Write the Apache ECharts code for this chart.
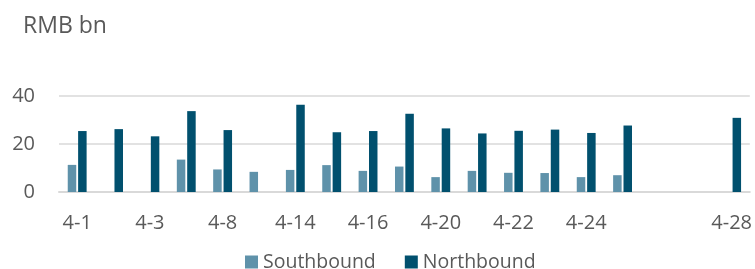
<!DOCTYPE html>
<html>
<head>
  <meta charset="UTF-8">
  <script src="https://cdn.jsdelivr.net/npm/echarts@6/dist/echarts.min.js"></script>
  <style>
    html, body { margin: 0; padding: 0; background: #fff; }
    #main { width: 755px; height: 269px; }
  </style>
</head>
<body>
  <div id="main"></div>
  <script>
    const days = ['4-1', '4-2', '4-3', '4-7', '4-8', '4-13', '4-14', '4-15', '4-16', '4-17',
                  '4-20', '4-21', '4-22', '4-23', '4-24', '4-25', '', '', '4-28'];
    const southbound = [11.3, null, null, 13.5, 9.4, 8.4, 9.2, 11.2, 8.8, 10.6,
                        6.2, 8.8, 8.0, 7.9, 6.2, 7.0, null, null, null];
    const northbound = [25.4, 26.2, 23.2, 33.7, 25.8, null, 36.4, 24.9, 25.4, 32.6,
                        26.5, 24.4, 25.5, 26.0, 24.6, 27.7, null, null, 30.9];
    const yTicks = [0, 20, 40];

    const font = 'Open Sans';
    const grey = '#595959';

    const chart = echarts.init(document.getElementById('main'));

    const option = {
      animation: false,
      textStyle: { fontFamily: font },
      title: {
        text: 'RMB bn',
        left: 18,
        top: 10,
        textStyle: { fontFamily: font, fontSize: 23, fontWeight: 'normal', color: grey }
      },
      legend: {
        left: 240,
        top: 247,
        itemWidth: 13,
        itemHeight: 13,
        itemGap: 29,
        icon: 'rect',
        textStyle: { fontFamily: font, fontSize: 19.5, color: grey },
        data: ['Southbound', 'Northbound']
      },
      grid: { left: 59, right: 5, top: 96, bottom: 77 },
      xAxis: {
        type: 'category',
        data: days,
        axisLine: { show: true, lineStyle: { color: '#d9d9d9', width: 2 } },
        axisTick: { show: false },
        axisLabel: { interval: 1, margin: 21, fontFamily: font, fontSize: 20, color: grey }
      },
      yAxis: {
        type: 'value',
        min: yTicks[0],
        max: yTicks[yTicks.length - 1],
        interval: 20,
        axisLine: { show: false },
        axisTick: { show: false },
        splitLine: { lineStyle: { color: '#d9d9d9', width: 1.5 } },
        axisLabel: { margin: 24, fontFamily: font, fontSize: 20, color: grey }
      },
      series: [
        {
          name: 'Southbound',
          type: 'bar',
          data: southbound,
          barWidth: 8.5,
          barGap: '22%',
          itemStyle: { color: '#5f92aa' }
        },
        {
          name: 'Northbound',
          type: 'bar',
          data: northbound,
          barWidth: 8.5,
          barGap: '22%',
          itemStyle: { color: '#01506e' }
        }
      ]
    };

    chart.setOption(option);
  </script>
</body>
</html>
